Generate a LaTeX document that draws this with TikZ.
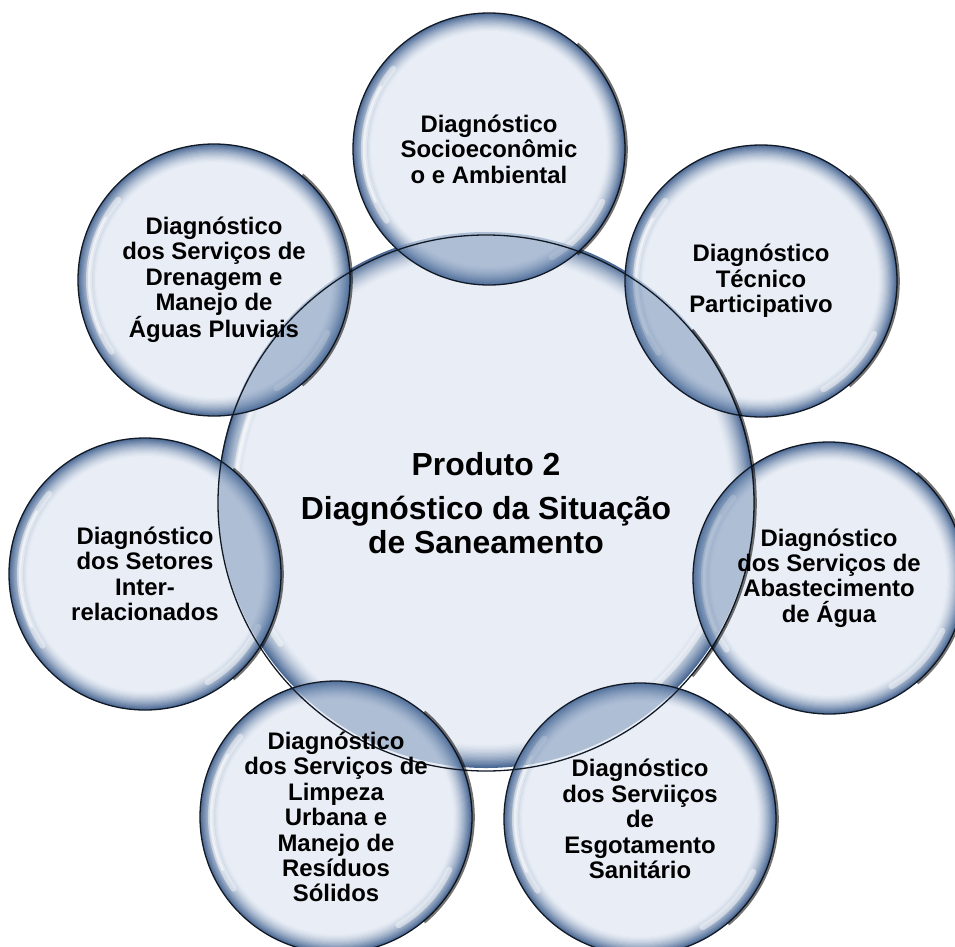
\documentclass[tikz,border=0pt]{standalone}
\usepackage{fontspec}
\setmainfont{Liberation Sans}
\usetikzlibrary{calc}
\definecolor{bcen}{HTML}{E9EEF6}
\definecolor{brim}{HTML}{4A6894}
\definecolor{bline}{HTML}{121A26}
\definecolor{blens}{HTML}{5D7DA8}
\newcommand\bubblefill[3]{%
  \foreach \k in {0,...,18}{%
    \pgfmathsetmacro\rr{#2*(1-#3*\k/18)}%
    \pgfmathsetmacro\pc{100*(1-\k/18)^1.5}%
    \fill[brim!\pc!bcen] (#1) circle[radius=\rr bp];}}
\tikzset{
  bubble/.style={circle, inner sep=0pt, draw=bline, line width=1.3bp,
    minimum size=272bp, align=center, font=\bfseries\fontsize{24}{25.5}\selectfont},
  bigbubble/.style={circle, inner sep=0pt, draw=bline, line width=1.3bp,
    minimum size=536bp, align=center, font=\bfseries\fontsize{32}{33.5}\selectfont},
  rimshadow/.style={draw=black, opacity=0.55, line width=2.6bp},
  glint/.style={draw=white, opacity=0.45, line width=6bp, line cap=round},
  glintcore/.style={draw=white, opacity=0.55, line width=2.5bp, line cap=round},
  lens/.style={fill=blens, fill opacity=0.42}
}
\begin{document}
\begin{tikzpicture}[x=1bp, y=-1bp]
\useasboundingbox (0,0) rectangle (955,947);
\fill[white] (0,0) rectangle (955,947);
\coordinate (pc) at (486,500);
\coordinate (p1) at (489,149);
\coordinate (p2) at (761,281);
\coordinate (p3) at (829,578);
\coordinate (p4) at (640,819);
\coordinate (p5) at (336,817);
\coordinate (p6) at (145,574);
\coordinate (p7) at (214,280);
% fills
\bubblefill{pc}{268}{0.09}
\draw[glint] ($(pc)+(140:251bp)$) arc[start angle=140, end angle=215, radius=251bp];
\draw[glintcore] ($(pc)+(148:251bp)$) arc[start angle=148, end angle=207, radius=251bp];
\draw[glint] ($(pc)+(-30:251bp)$) arc[start angle=-30, end angle=-65, radius=251bp];
\foreach \p in {p1,p2,p3,p4,p5,p6,p7}{
  \bubblefill{\p}{136}{0.14}
  \draw[glint] ($(\p)+(140:125bp)$) arc[start angle=140, end angle=215, radius=125bp];
  \draw[glintcore] ($(\p)+(150:125bp)$) arc[start angle=150, end angle=205, radius=125bp];
  \draw[glint] ($(\p)+(-25:125bp)$) arc[start angle=-25, end angle=-60, radius=125bp];
  \begin{scope}
    \clip (pc) circle[radius=268bp];
    \fill[lens] (\p) circle[radius=136bp];
  \end{scope}
}
% outlines and text
\node[bigbubble] (c) at (486,503) {Produto 2\\[11bp] Diagnóstico da Situação\\ de Saneamento};
\node[bubble] (s1) at (p1) {Diagnóstico\\ Socioeconômic\\ o e Ambiental};
\node[bubble] (s2) at (p2) {Diagnóstico\\ Técnico\\ Participativo};
\node[bubble] (s3) at (p3) {Diagnóstico\\ dos Serviços de\\ Abastecimento\\ de Água};
\node[bubble] (s4) at (p4) {Diagnóstico\\ dos Serviiços\\ de\\ Esgotamento\\ Sanitário};
\node[bubble] (s5) at (p5) {Diagnóstico\\ dos Serviços de\\ Limpeza\\ Urbana e\\ Manejo de\\ Resíduos\\ Sólidos};
\node[bubble] (s6) at (p6) {Diagnóstico\\ dos Setores\\ Inter-\\ relacionados};
\node[bubble] (s7) at (p7) {Diagnóstico\\ dos Serviços de\\ Drenagem e\\ Manejo de\\ Águas Pluviais};
\foreach \n in {s1,s2,s3,s4,s5,s6,s7}{
  \draw[rimshadow] ($(\n.center)+(-50:137.5bp)$) arc[start angle=-50, end angle=50, radius=137.5bp];
}
\draw[rimshadow] ($(c.center)+(-40:269.5bp)$) arc[start angle=-40, end angle=40, radius=269.5bp];
\end{tikzpicture}
\end{document}
